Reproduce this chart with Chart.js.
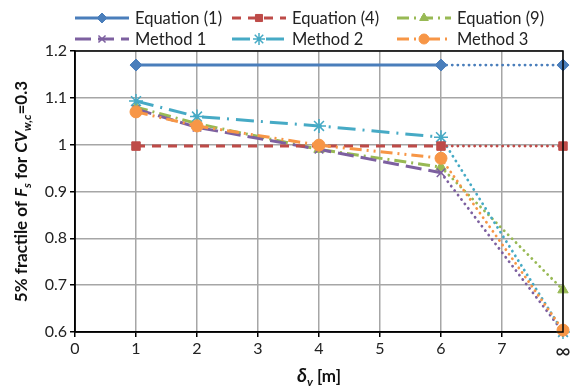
<!DOCTYPE html>
<html>
<head>
<meta charset="utf-8">
<script src="https://cdn.jsdelivr.net/npm/chart.js@4.4.1/dist/chart.umd.min.js"></script>
<style>
  html, body { margin: 0; padding: 0; background: #fff; }
  #wrap { width: 581px; height: 388px; position: relative; }
</style>
</head>
<body>
<div id="wrap"><canvas id="chart" width="581" height="388"></canvas></div>
<script>
// x positions (8 = infinity)
const xVals = [1, 2, 4, 6, 8];
const xTickLabels = ['0', '1', '2', '3', '4', '5', '6', '7', '∞'];

// 5% fractile values
const eq1 = [1.17, null, null, 1.17, 1.17];
const eq4 = [0.997, null, null, 0.997, 0.997];
const eq9 = [1.08, 1.045, 0.99, 0.952, 0.69];
const method1 = [1.076, 1.037, 0.99, 0.94, 0.6];
const method2 = [1.093, 1.06, 1.04, 1.016, 0.6];
const method3 = [1.07, 1.04, 0.999, 0.971, 0.604];

const seriesNames = ['Equation (1)', 'Equation (4)', 'Equation (9)', 'Method 1', 'Method 2', 'Method 3'];
const FONT = 'Lato, "Open Sans", sans-serif';

const dotDash = [0.1, 5.5];

function makeSet(label, values, color, dash, pointStyle, radius, order) {
    return {
        label: label,
        data: xVals.map((x, i) => ({ x: x, y: values[i] })),
        borderColor: color,
        backgroundColor: color,
        borderWidth: 3,
        borderDash: dash,
        pointStyle: pointStyle,
        pointRadius: radius,
        pointBorderWidth: pointStyle === 'crossRot' || pointStyle === 'star' ? 1.5 : 1,
        pointBorderColor: color,
        pointBackgroundColor: color,
        spanGaps: true,
        tension: 0,
        clip: false,
        order: order,
        segment: {
            borderDash: ctx => ctx.p1.parsed.x === 8 ? dotDash : dash,
            borderCapStyle: ctx => ctx.p1.parsed.x === 8 ? 'round' : 'butt',
            borderWidth: ctx => ctx.p1.parsed.x === 8 ? 2.8 : 3
        }
    };
}

const datasets = [
    makeSet(seriesNames[0], eq1, '#4a7ebb', [], 'rectRot', 6, 5),
    makeSet(seriesNames[1], eq4, '#be4b48', [9, 7], 'rect', 6, 1),
    makeSet(seriesNames[2], eq9, '#98b954', [12, 5, 2, 5], 'triangle', 6, 4),
    makeSet(seriesNames[3], method1, '#7d60a0', [16, 7], 'crossRot', 6, 3),
    makeSet(seriesNames[4], method2, '#46aac5', [18, 7, 2, 7], 'star', 7, 2),
    makeSet(seriesNames[5], method3, '#f79646', [12, 5, 2, 5, 2, 5], 'circle', 6, 0)
];

// legend drawn in three fixed columns like the original
const legendCols = [75, 232, 397];
const legendRows = [18, 39];

const legendPlugin = {
    id: 'gridLegend',
    afterDraw(chart) {
        const c = chart.ctx;
        chart.data.datasets.forEach((ds, i) => {
            const col = i % 3, row = Math.floor(i / 3);
            const x0 = legendCols[col], y = legendRows[row];
            const w = 54;
            c.save();
            c.strokeStyle = ds.borderColor;
            c.fillStyle = ds.borderColor;
            c.lineWidth = 3;
            c.setLineDash(ds.borderDash);
            c.beginPath();
            c.moveTo(x0, y);
            c.lineTo(x0 + w, y);
            c.stroke();
            c.setLineDash([]);
            c.lineWidth = ds.pointBorderWidth;
            Chart.helpers.drawPoint(c, {
                pointStyle: ds.pointStyle,
                radius: ds.pointRadius - 1,
                rotation: 0,
                borderWidth: ds.pointBorderWidth
            }, x0 + w / 2, y);
            c.fillStyle = '#222';
            c.font = '16.5px ' + FONT;
            c.textBaseline = 'middle';
            c.fillText(ds.label, x0 + w + 6, y + 1);
            c.restore();
        });
    }
};

function drawRich(c, parts, x, y) {
    // parts: [text, font, dy]
    let total = 0;
    parts.forEach(p => { c.font = p[1]; total += c.measureText(p[0]).width; });
    let cx = x - total / 2;
    parts.forEach(p => {
        c.font = p[1];
        c.fillText(p[0], cx, y + (p[2] || 0));
        cx += c.measureText(p[0]).width;
    });
}

const titlePlugin = {
    id: 'axisTitles',
    afterDraw(chart) {
        const c = chart.ctx;
        const a = chart.chartArea;
        c.save();
        // plot frame
        c.strokeStyle = '#000';
        c.lineWidth = 1.5;
        c.strokeRect(a.left, a.top, a.right - a.left, a.bottom - a.top);

        c.fillStyle = '#111';
        c.textBaseline = 'alphabetic';
        const b = 'bold 17px ' + FONT;
        const bi = 'italic bold 17px ' + FONT;
        const si = 'italic bold 12px ' + FONT;
        // x title
        drawRich(c, [['δ', 'italic bold 19px ' + FONT], ['v', si, 4], [' [m]', b]],
            (a.left + a.right) / 2, 382);
        // y title
        c.translate(27, (a.top + a.bottom) / 2);
        c.rotate(-Math.PI / 2);
        drawRich(c, [['5% fractile of ', b], ['F', bi], ['s', si, 4], [' for ', b],
            ['CV', bi], ['w,c', si, 4], ['=0.3', b]], 0, 0);
        c.restore();
    }
};

new Chart(document.getElementById('chart'), {
    type: 'line',
    data: { datasets: datasets },
    options: {
        responsive: false,
        animation: false,
        layout: { padding: { top: 51, right: 18, left: 0, bottom: 0 } },
        plugins: {
            legend: { display: false },
            tooltip: { enabled: false }
        },
        scales: {
            x: {
                type: 'linear',
                min: 0,
                max: 8,
                afterFit: s => { s.height = 56; },
                ticks: {
                    stepSize: 1,
                    color: '#222',
                    font: ctx => ({ family: FONT, size: ctx.tick && ctx.tick.value === 8 ? 21 : 16 }),
                    padding: 2,
                    callback: v => xTickLabels[v]
                },
                grid: { color: '#a6a6a6', lineWidth: 1.5, tickColor: '#000', tickLength: 5 },
                border: { color: '#000', width: 1.5 }
            },
            y: {
                min: 0.6,
                max: 1.2,
                afterFit: s => { s.width = 75; },
                ticks: {
                    stepSize: 0.1,
                    color: '#222',
                    font: { family: FONT, size: 16 },
                    padding: 3,
                    callback: v => String(+v.toFixed(1))
                },
                grid: { color: '#a6a6a6', lineWidth: 1.5, tickColor: '#000', tickLength: 5 },
                border: { color: '#000', width: 1.5 }
            }
        }
    },
    plugins: [legendPlugin, titlePlugin]
});
</script>
</body>
</html>
